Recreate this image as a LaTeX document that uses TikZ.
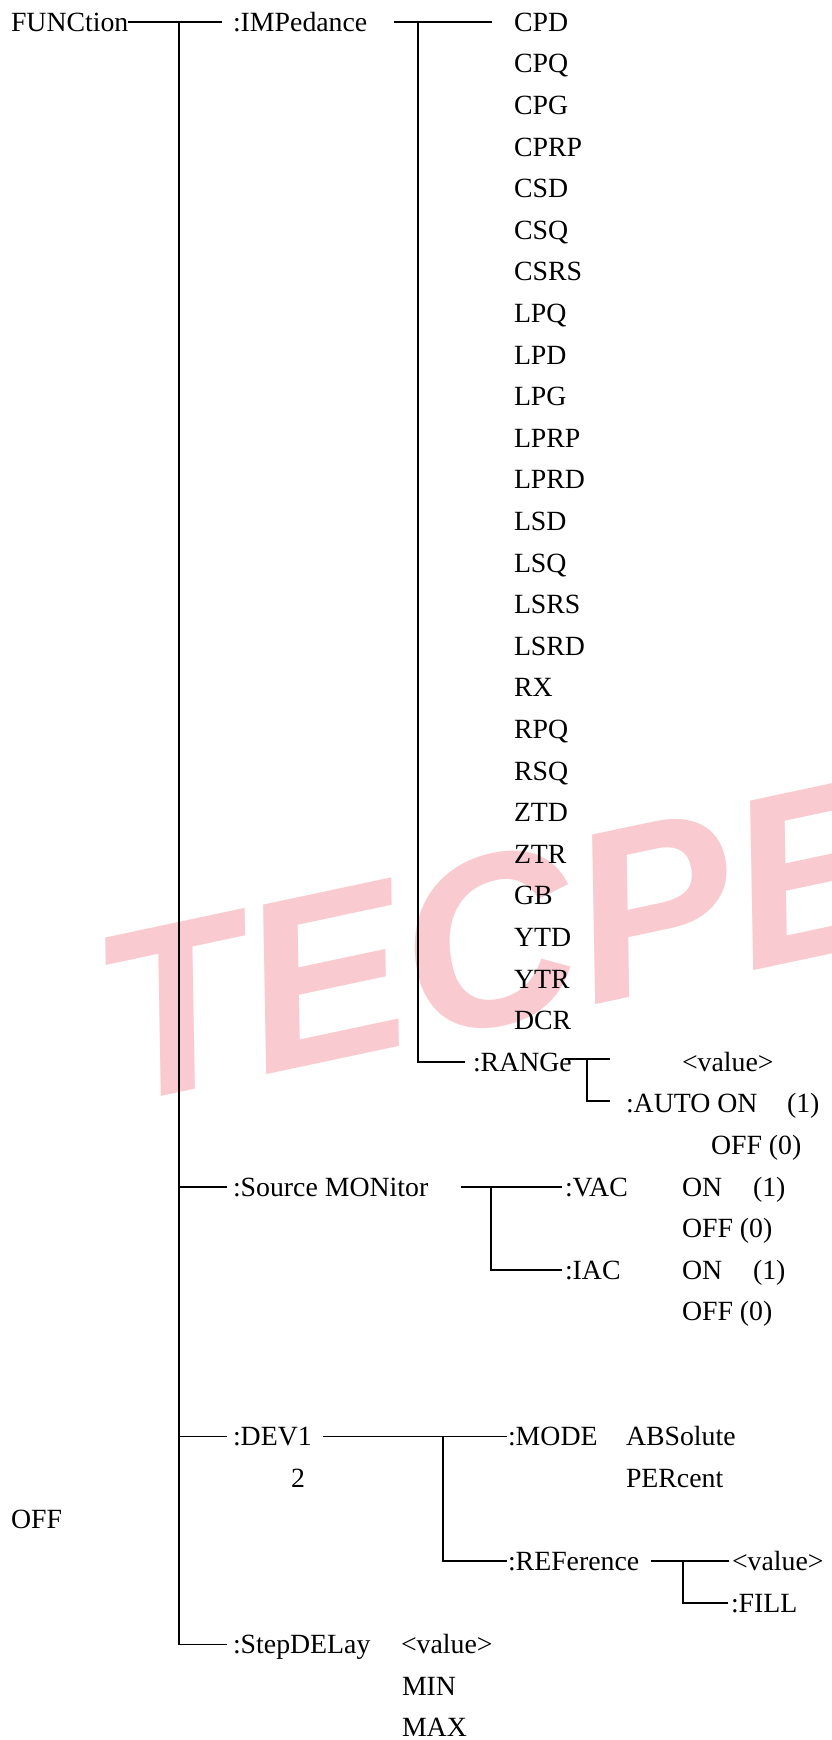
\documentclass[tikz,border=0pt]{standalone}
\usepackage{fontspec}
\setmainfont{Liberation Serif}
\newfontfamily\wmfont{Liberation Sans}
\definecolor{wmpink}{RGB}{249,202,208}
\newcommand\rowy[1]{22+41.6*#1}
\begin{document}
\begin{tikzpicture}[x=1pt,y=-1pt,
  t/.style={anchor=west,inner sep=0pt,outer sep=0pt,text height=18.4pt,text depth=0pt,
            font=\fontsize{27.8}{33}\selectfont},
  ln/.style={draw=black,line width=1.8pt}]
\useasboundingbox (0,0) rectangle (832,1740);
\fill[white] (0,0) rectangle (832,1740);
% watermark
\begin{scope}
\clip (0,0) rectangle (832,1740);
\node[anchor=base west,rotate=12,inner sep=0pt,text=wmpink,
      font=\wmfont\bfseries\itshape\fontsize{242}{242}\selectfont] (wm) at (118,1106) {TECPEL};
\end{scope}
% level 0
\node[t] (fn) at (11,\rowy{0}) {FUNCtion};
\node[t] (off) at (11,\rowy{36}) {OFF};
% level 1
\node[t] (imp) at (233,\rowy{0}) {:IMPedance};
\node[t] (src) at (233,\rowy{28}) {:Source MONitor};
\node[t] (dev) at (233,\rowy{34}) {:DEV1};
\node[t] (two) at (291,\rowy{35}) {2};
\node[t] (sdl) at (233,\rowy{39}) {:StepDELay};
\node[t] (sval) at (401,\rowy{39}) {<value>};
\node[t] (min) at (402,\rowy{40}) {MIN};
\node[t] (max) at (402,\rowy{41}) {MAX};
% impedance leaves
\foreach \name [count=\i from 0] in {CPD,CPQ,CPG,CPRP,CSD,CSQ,CSRS,LPQ,LPD,LPG,LPRP,LPRD,LSD,LSQ,LSRS,LSRD,RX,RPQ,RSQ,ZTD,ZTR,GB,YTD,YTR,DCR}
  \node[t] (leaf\i) at (514,\rowy{\i}) {\name};
% range
\node[t] (rng) at (473,\rowy{25}) {:RANGe};
\node[t] (rval) at (682,\rowy{25}) {<value>};
\node[t] (auto) at (626,\rowy{26}) {:AUTO ON};
\node[t] (autoone) at (787,\rowy{26}) {(1)};
\node[t] (aoff) at (711,\rowy{27}) {OFF (0)};
% source monitor
\node[t] (vac) at (565,\rowy{28}) {:VAC};
\node[t] (vacon) at (682,\rowy{28}) {ON};
\node[t] (vacone) at (753,\rowy{28}) {(1)};
\node[t] (vacoff) at (682,\rowy{29}) {OFF (0)};
\node[t] (iac) at (565,\rowy{30}) {:IAC};
\node[t] (iacon) at (682,\rowy{30}) {ON};
\node[t] (iacone) at (753,\rowy{30}) {(1)};
\node[t] (iacoff) at (682,\rowy{31}) {OFF (0)};
% dev
\node[t] (mode) at (508,\rowy{34}) {:MODE};
\node[t] (abs) at (626,\rowy{34}) {ABSolute};
\node[t] (per) at (626,\rowy{35}) {PERcent};
\node[t] (ref) at (508,\rowy{37}) {:REFerence};
\node[t] (refval) at (732,\rowy{37}) {<value>};
\node[t] (fill) at (731,\rowy{38}) {:FILL};
% junction coordinates
\coordinate (v0) at (179,\rowy{0});
\coordinate (v1) at (418,\rowy{0});
\coordinate (v2) at (587,\rowy{25});
\coordinate (rngend) at (610,\rowy{25});
\coordinate (v3) at (491,\rowy{28});
\coordinate (v4) at (443,\rowy{34});
\coordinate (v5) at (683,\rowy{37});
% connectors
\draw[ln] (fn.east) -- ([xshift=-11pt]imp.west);
\draw[ln] (v0) |- ([xshift=-6pt]sdl.west);
\draw[ln] (v0 |- src.west) -- ([xshift=-6pt]src.west);
\draw[ln] (v0 |- dev.west) -- ([xshift=-6pt]dev.west);
\draw[ln] ([xshift=27pt]imp.east) -- ([xshift=-22pt]leaf0.west);
\draw[ln] (v1) |- ([xshift=-8pt]rng.west);
\draw[ln] ([xshift=-7pt,yshift=3pt]rng.east) -- ([yshift=3pt]rngend);
\draw[ln] ([yshift=3pt]v2) |- ([xshift=-16pt,yshift=3pt]auto.west);
\draw[ln] ([xshift=33pt]src.east) -- ([xshift=-3pt]vac.west);
\draw[ln] (v3) |- ([xshift=-3pt]iac.west);
\draw[ln] ([xshift=11pt]dev.east) -- ([xshift=-1pt]mode.west);
\draw[ln] (v4) |- ([xshift=-1pt]ref.west);
\draw[ln] ([xshift=12pt]ref.east) -- ([xshift=-3pt]refval.west);
\draw[ln] (v5) |- ([xshift=-3pt]fill.west);
\end{tikzpicture}
\end{document}
